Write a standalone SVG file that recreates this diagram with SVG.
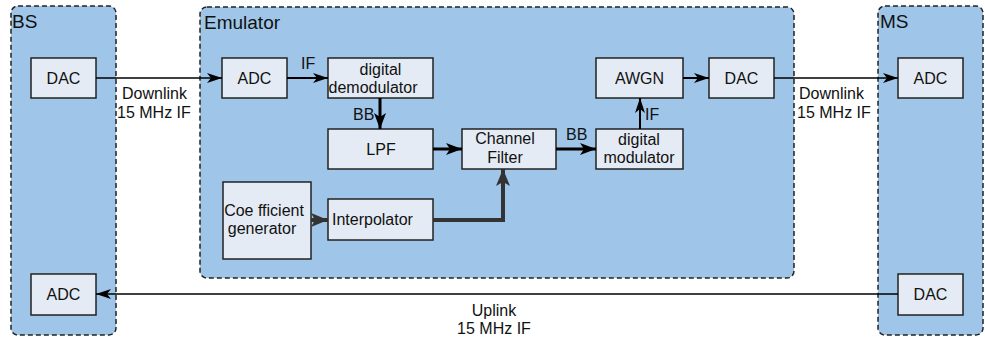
<svg xmlns="http://www.w3.org/2000/svg" width="985" height="341" viewBox="0 0 985 341">
<defs>
<style>
.cont{fill:#9FC5E8;stroke:#222;stroke-width:1.5;stroke-dasharray:5 3}
.box{fill:#E4EBF4;stroke:#222;stroke-width:1.5}
.title{font-family:"Liberation Sans",Arial,sans-serif;font-size:19px;fill:#111}
.t{font-family:"Liberation Sans",Arial,sans-serif;font-size:16px;fill:#111}
.c{text-anchor:middle}
.thin{fill:none;stroke:#000;stroke-width:1.5}
.mid{fill:none;stroke:#000;stroke-width:2}
.thick{fill:none;stroke:#000;stroke-width:3}
.dark{fill:none;stroke:#333;stroke-width:4}
</style>
<marker id="ah" markerUnits="userSpaceOnUse" markerWidth="16" markerHeight="12" refX="15" refY="5" orient="auto" viewBox="0 0 16 10">
<path d="M0,0 L15,5 L0,10 L4,5 z" fill="#000"/>
</marker>
<marker id="ahT" markerUnits="userSpaceOnUse" markerWidth="17" markerHeight="13" refX="16" refY="6" orient="auto" viewBox="0 0 17 12">
<path d="M0,0 L16,6 L0,12 L4,6 z" fill="#000"/>
</marker>
<marker id="ahD" markerUnits="userSpaceOnUse" markerWidth="18" markerHeight="14" refX="17" refY="7" orient="auto" viewBox="0 0 18 14">
<path d="M0,0 L17,7 L0,14 L4,7 z" fill="#333"/>
</marker>
</defs>

<g id="bs-container"><rect class="cont" x="11" y="6" width="105" height="329" rx="7"/><text class="title" x="12" y="28">BS</text></g>
<g id="emulator-container"><rect class="cont" x="200" y="7" width="594" height="271" rx="7"/><text class="title" x="204" y="29">Emulator</text></g>
<g id="ms-container"><rect class="cont" x="878" y="6" width="105" height="329" rx="7"/><text class="title" x="880" y="28">MS</text></g>

<g id="bs-dac"><rect class="box" x="31" y="58" width="65" height="40"/><text class="t c" x="63.5" y="84">DAC</text></g>
<g id="bs-adc"><rect class="box" x="31" y="274" width="65" height="41"/><text class="t c" x="63.5" y="300">ADC</text></g>
<g id="emu-adc"><rect class="box" x="222" y="58" width="65" height="40"/><text class="t c" x="254.5" y="84">ADC</text></g>
<g id="demod"><rect class="box" x="328" y="58" width="105" height="40"/><text class="t c" x="380.5" y="75">digital</text><text class="t c" x="373" y="93">demodulator</text></g>
<g id="lpf"><rect class="box" x="328" y="129" width="105" height="40"/><text class="t c" x="381" y="155">LPF</text></g>
<g id="channel-filter"><rect class="box" x="462" y="129" width="94" height="40"/><text class="t c" x="505" y="144">Channel</text><text class="t c" x="505" y="163">Filter</text></g>
<g id="modulator"><rect class="box" x="596" y="129" width="87" height="40"/><text class="t c" x="639" y="145">digital</text><text class="t c" x="639" y="163">modulator</text></g>
<g id="awgn"><rect class="box" x="596" y="58" width="87" height="40"/><text class="t c" x="639.5" y="84">AWGN</text></g>
<g id="emu-dac"><rect class="box" x="709" y="58" width="65" height="40"/><text class="t c" x="741.5" y="84">DAC</text></g>
<g id="coef"><rect class="box" x="223" y="182" width="88" height="77"/><text class="t c" x="264" y="216">Coe fficient</text><text class="t c" x="262" y="234">generator</text></g>
<g id="interp"><rect class="box" x="328" y="199" width="105" height="41"/><text class="t" x="332" y="225">Interpolator</text></g>
<g id="ms-adc"><rect class="box" x="898" y="58" width="65" height="40"/><text class="t c" x="930.5" y="84">ADC</text></g>
<g id="ms-dac"><rect class="box" x="898" y="274" width="65" height="41"/><text class="t c" x="930.5" y="300">DAC</text></g>

<g id="connectors">
<path class="thin" d="M96,78 H222" marker-end="url(#ah)"/>
<path class="mid" d="M287,78 H328" marker-end="url(#ah)"/>
<path class="thick" d="M380,98 V129" marker-end="url(#ahT)"/>
<path class="thick" d="M433,149 H462" marker-end="url(#ahT)"/>
<path class="thick" d="M556,149 H596" marker-end="url(#ahT)"/>
<path class="mid" d="M640,129 V98" marker-end="url(#ah)"/>
<path class="mid" d="M683,78 H709" marker-end="url(#ah)"/>
<path class="thin" d="M774,78 H898" marker-end="url(#ah)"/>
<path class="dark" d="M311,220 H328" marker-end="url(#ahD)"/>
<path class="dark" d="M433,220 H503 V169" marker-end="url(#ahD)"/>
<path class="thin" d="M898,294 H96" marker-end="url(#ah)"/>
<text class="t" x="301" y="69">IF</text>
<text class="t" x="353" y="120">BB</text>
<text class="t" x="566" y="140">BB</text>
<text class="t" x="645" y="120">IF</text>
<text class="t" x="122" y="99">Downlink</text>
<text class="t" x="117" y="118">15 MHz IF</text>
<text class="t" x="799" y="99">Downlink</text>
<text class="t" x="797" y="118">15 MHz IF</text>
<text class="t c" x="494" y="316">Uplink</text>
<text class="t c" x="494" y="334">15 MHz IF</text>
</g>
</svg>
